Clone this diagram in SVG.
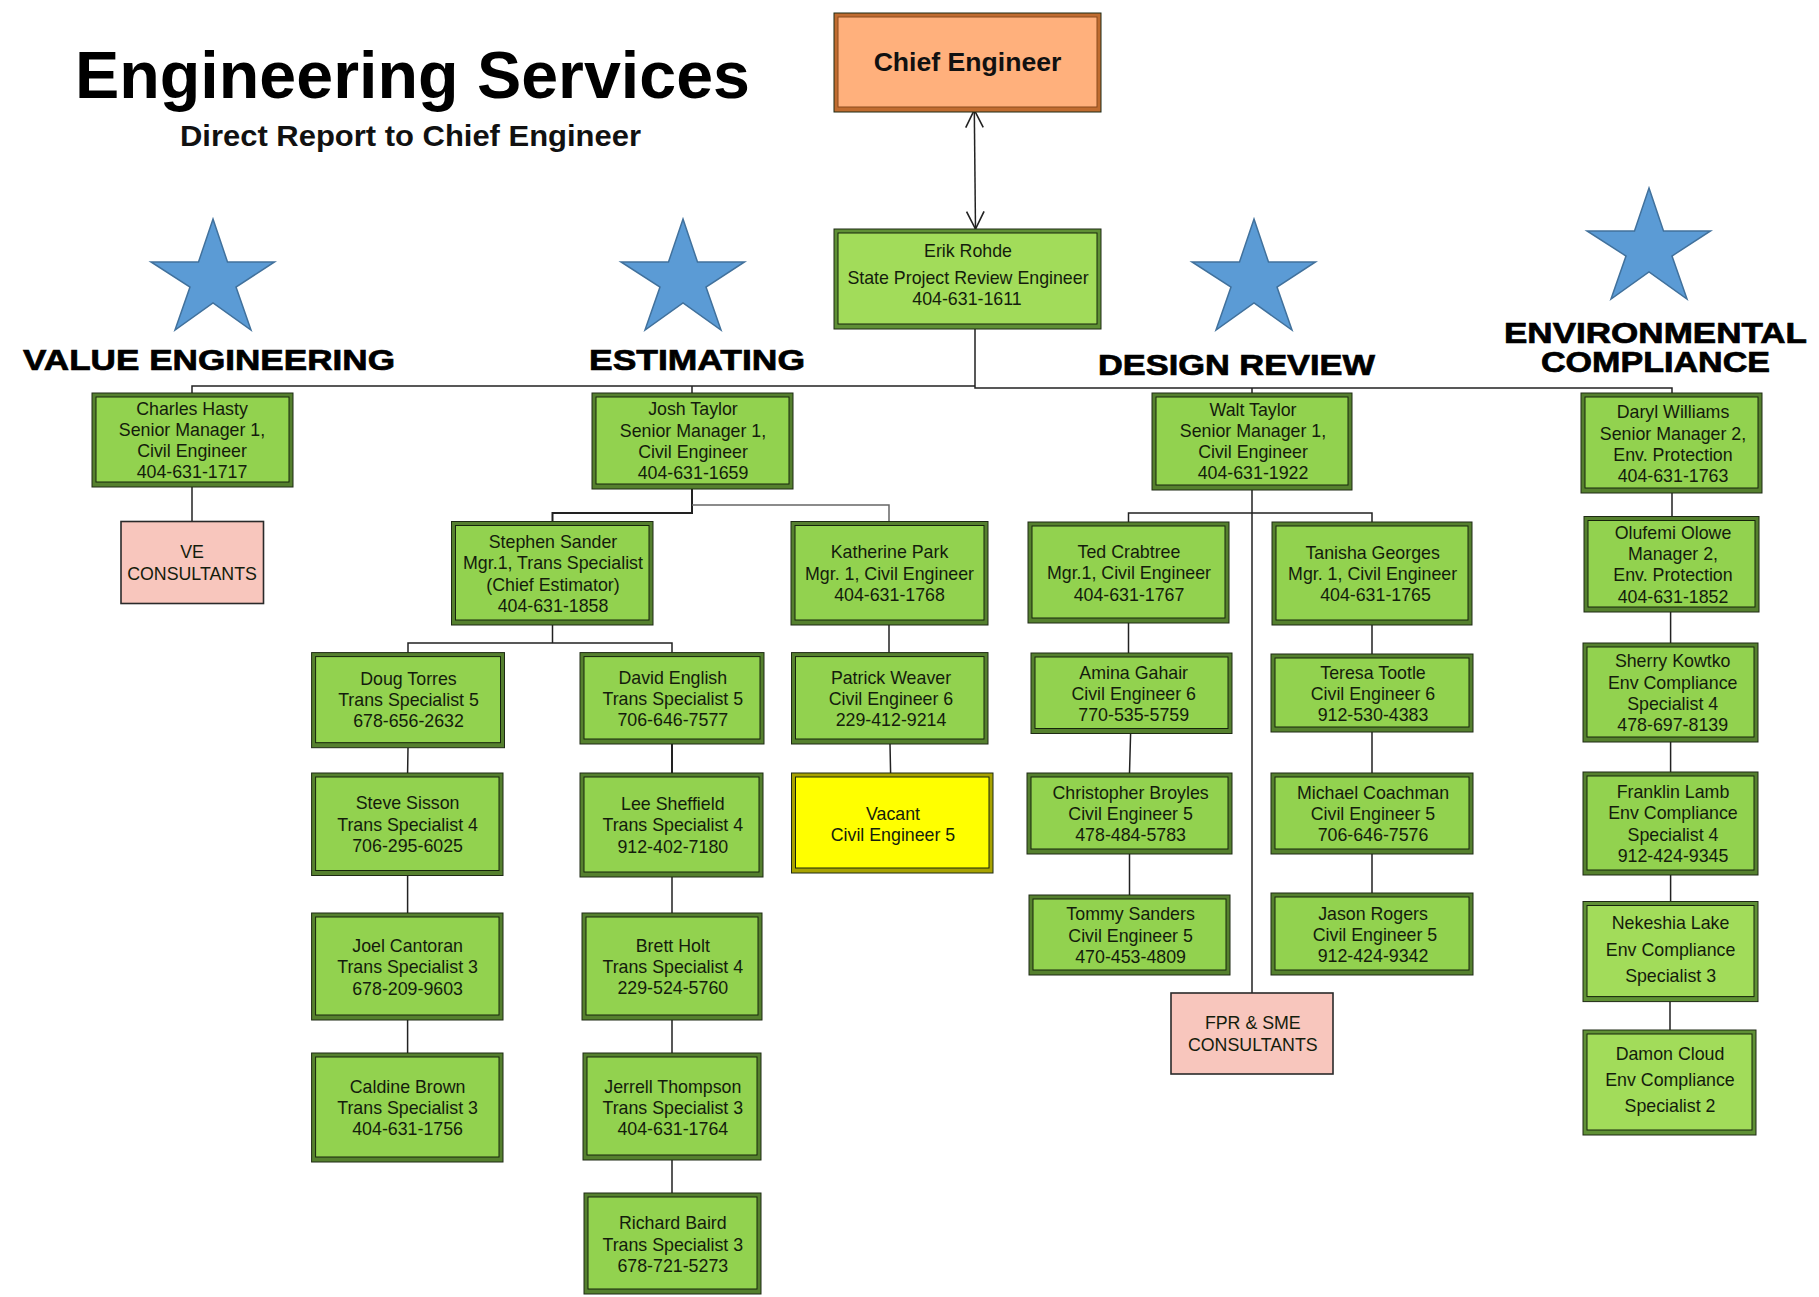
<svg xmlns="http://www.w3.org/2000/svg" xmlns:xlink="http://www.w3.org/1999/xlink" width="1819" height="1297" viewBox="0 0 1819 1297">
<style>
text{font-family:"Liberation Sans",Arial,sans-serif;fill:#141c0c}
.t{font-size:17.8px;text-anchor:middle}
.h{font-size:29px;font-weight:bold;fill:#000;stroke:#000;stroke-width:.7px}
.o{stroke:#1e2a14;stroke-width:1}
.g .o{fill:#55802e}.g .i{fill:#92d24f}
.l .o{fill:#5f9035}.l .i{fill:#a2dc5a}
.y .o{fill:#a8a300}.y .i{fill:#ffff00}
.c .o{fill:#c06c30}.c .i{fill:#ffb07c;stroke:#8a4a1c}
.i{stroke:#16240c;stroke-width:1}
.p{fill:#f8c6bd;stroke:#2a2a2a;stroke-width:1.6}
.s{fill:#5b9bd5;stroke:#41719c;stroke-width:1.5}
.w{fill:none;stroke:#222;stroke-width:1.5}
.gy{fill:none;stroke:#666;stroke-width:1.5}
</style>
<defs>
<marker id="a" markerUnits="userSpaceOnUse" markerWidth="20" markerHeight="20" refX="15" refY="8" orient="auto-start-reverse" viewBox="0 0 16 16"><path d="M1 1L15 8L1 15" fill="none" stroke="#222" stroke-width="1.3"/></marker>
<polygon id="star" class="s" points="213,219 227.5,262 274.5,262 236,287 251,330 213,303 175,330 190,287 151,262 198.5,262"/>
</defs>

<g id="connectors">
<path class="w" d="M974.3 110L975.5 229" marker-start="url(#a)" marker-end="url(#a)"/>
<path class="w" d="M975 329V388H1672V393M975 386H192V393M692 386V393M1252 388V393"/>
<path class="w" d="M192 487V521"/>
<path class="w" d="M692 489V513H552.5V521.5" style="stroke-width:2"/>
<path class="gy" d="M692 505H889V521.5"/>
<path class="w" d="M552.5 625V643M408 652.6V643H672V652.6"/>
<path class="w" d="M408 747.7L407.6 773M407.6 875.5V913M407.6 1020V1053"/>
<path class="w" d="M672 744V773" style="stroke-width:2"/>
<path class="w" d="M672 877V913M672 1020V1053M672 1160V1193"/>
<path class="w" d="M889 625V652.6M890 744L890.6 773"/>
<path class="w" d="M1252 490V993M1128.5 522V513H1372V522"/>
<path class="w" d="M1128.5 623V653M1130.6 733.5L1129.5 773M1129.5 854V895"/>
<path class="w" d="M1372 625V654M1372 732V773M1372 854V893"/>
<path class="w" d="M1672 493V516.5M1670.6 612V643M1670.6 742V772M1670.6 875V901.5M1670 1001.6V1030"/>
</g>

<g id="title">
<text x="75" y="97.5" style="font-size:66.5px;font-weight:bold;fill:#000" textLength="675" lengthAdjust="spacingAndGlyphs">Engineering Services</text>
<text x="180" y="146" style="font-size:29.5px;font-weight:bold;fill:#111" textLength="461" lengthAdjust="spacingAndGlyphs">Direct Report to Chief Engineer</text>
</g>

<g id="stars">
<use xlink:href="#star" href="#star"/>
<use xlink:href="#star" href="#star" x="470"/>
<use xlink:href="#star" href="#star" x="1041"/>
<use xlink:href="#star" href="#star" x="1436" y="-31"/>
</g>

<g id="headings">
<text class="h" x="23" y="370" textLength="372" lengthAdjust="spacingAndGlyphs">VALUE ENGINEERING</text>
<text class="h" x="589" y="370" textLength="216" lengthAdjust="spacingAndGlyphs">ESTIMATING</text>
<text class="h" x="1098" y="375" textLength="277" lengthAdjust="spacingAndGlyphs">DESIGN REVIEW</text>
<text class="h" x="1504" y="343" textLength="303" lengthAdjust="spacingAndGlyphs">ENVIRONMENTAL</text>
<text class="h" x="1541" y="372" textLength="229" lengthAdjust="spacingAndGlyphs">COMPLIANCE</text>
</g>

<g id="n-chief" class="c"><rect class="o" x="834" y="13" width="267" height="99"/><rect class="i" x="838" y="17" width="259" height="90"/><text x="967.5" y="71" style="font-size:26.6px;font-weight:bold;fill:#111;text-anchor:middle">Chief Engineer</text></g>
<g id="n-erik" class="l"><rect class="o" x="834" y="229" width="267" height="100"/><rect class="i" x="838" y="233" width="259" height="91"/><text class="t"><tspan x="968" y="257">Erik Rohde</tspan><tspan x="968" y="283.5">State Project Review Engineer</tspan><tspan x="967" y="304.5">404-631-1611</tspan></text></g>

<g id="n-charles" class="g"><rect class="o" x="92" y="393" width="201" height="94"/><rect class="i" x="96" y="397" width="193" height="85"/><text class="t"><tspan x="192" y="414.5">Charles Hasty</tspan><tspan x="192" y="436">Senior Manager 1,</tspan><tspan x="192" y="457">Civil Engineer</tspan><tspan x="192" y="478">404-631-1717</tspan></text></g>
<g id="n-ve"><rect class="p" x="121" y="521.5" width="142.500" height="82"/><text class="t"><tspan x="192" y="558">VE</tspan><tspan x="192" y="579.500">CONSULTANTS</tspan></text></g>

<g id="n-josh" class="g"><rect class="o" x="592" y="393" width="201" height="96"/><rect class="i" x="596" y="397" width="193" height="87"/><text class="t"><tspan x="693" y="415">Josh Taylor</tspan><tspan x="693" y="436.5">Senior Manager 1,</tspan><tspan x="693" y="457.5">Civil Engineer</tspan><tspan x="693" y="478.5">404-631-1659</tspan></text></g>
<g id="n-stephen" class="g"><rect class="o" x="451.500" y="521.5" width="201.500" height="103.500"/><rect class="i" x="455.500" y="525.5" width="193.500" height="94.500"/><text class="t"><tspan x="553" y="548">Stephen Sander</tspan><tspan x="553" y="569">Mgr.1, Trans Specialist</tspan><tspan x="553" y="590.5">(Chief Estimator)</tspan><tspan x="553" y="611.5">404-631-1858</tspan></text></g>
<g id="n-katherine" class="g"><rect class="o" x="791" y="521.5" width="197" height="103.500"/><rect class="i" x="795" y="525.5" width="189" height="94.500"/><text class="t"><tspan x="889.5" y="558">Katherine Park</tspan><tspan x="889.5" y="579.5">Mgr. 1, Civil Engineer</tspan><tspan x="889.5" y="601">404-631-1768</tspan></text></g>

<g id="n-doug" class="g"><rect class="o" x="311.600" y="652.6" width="192.900" height="95.100"/><rect class="i" x="315.600" y="656.6" width="184.900" height="86.100"/><text class="t"><tspan x="408.5" y="685.4">Doug Torres</tspan><tspan x="408.5" y="706.3">Trans Specialist 5</tspan><tspan x="408.5" y="727.2">678-656-2632</tspan></text></g>
<g id="n-steve" class="g"><rect class="o" x="311.600" y="773" width="191.400" height="102.500"/><rect class="i" x="315.600" y="777" width="183.400" height="93.500"/><text class="t"><tspan x="407.6" y="809.4">Steve Sisson</tspan><tspan x="407.6" y="830.8">Trans Specialist 4</tspan><tspan x="407.6" y="852">706-295-6025</tspan></text></g>
<g id="n-joel" class="g"><rect class="o" x="311.600" y="913" width="191.400" height="107"/><rect class="i" x="315.600" y="917" width="183.400" height="98"/><text class="t"><tspan x="407.6" y="952.3">Joel Cantoran</tspan><tspan x="407.6" y="973.2">Trans Specialist 3</tspan><tspan x="407.6" y="994.6">678-209-9603</tspan></text></g>
<g id="n-caldine" class="g"><rect class="o" x="311.600" y="1053" width="191.400" height="109"/><rect class="i" x="315.600" y="1057" width="183.400" height="100"/><text class="t"><tspan x="407.6" y="1093">Caldine Brown</tspan><tspan x="407.6" y="1114">Trans Specialist 3</tspan><tspan x="407.6" y="1135.4">404-631-1756</tspan></text></g>

<g id="n-david" class="g"><rect class="o" x="580" y="652.6" width="184" height="91.400"/><rect class="i" x="584" y="656.6" width="176" height="82.400"/><text class="t"><tspan x="672.8" y="683.7">David English</tspan><tspan x="672.8" y="705">Trans Specialist 5</tspan><tspan x="672.8" y="726">706-646-7577</tspan></text></g>
<g id="n-lee" class="g"><rect class="o" x="580" y="773" width="183" height="104"/><rect class="i" x="584" y="777" width="175" height="95"/><text class="t"><tspan x="672.8" y="810">Lee Sheffield</tspan><tspan x="672.8" y="831">Trans Specialist 4</tspan><tspan x="672.8" y="852.5">912-402-7180</tspan></text></g>
<g id="n-brett" class="g"><rect class="o" x="582" y="913" width="180" height="107"/><rect class="i" x="586" y="917" width="172" height="98"/><text class="t"><tspan x="672.8" y="952">Brett Holt</tspan><tspan x="672.8" y="973">Trans Specialist 4</tspan><tspan x="672.8" y="994">229-524-5760</tspan></text></g>
<g id="n-jerrell" class="g"><rect class="o" x="583" y="1053" width="178" height="107"/><rect class="i" x="587" y="1057" width="170" height="98"/><text class="t"><tspan x="672.8" y="1092.6">Jerrell Thompson</tspan><tspan x="672.8" y="1113.6">Trans Specialist 3</tspan><tspan x="672.8" y="1135">404-631-1764</tspan></text></g>
<g id="n-richard" class="g"><rect class="o" x="584" y="1193" width="177" height="101"/><rect class="i" x="588" y="1197" width="169" height="92"/><text class="t"><tspan x="672.8" y="1229.4">Richard Baird</tspan><tspan x="672.8" y="1250.6">Trans Specialist 3</tspan><tspan x="672.8" y="1272">678-721-5273</tspan></text></g>

<g id="n-patrick" class="g"><rect class="o" x="791.500" y="652.6" width="196.500" height="91.400"/><rect class="i" x="795.500" y="656.6" width="188.500" height="82.400"/><text class="t"><tspan x="891" y="683.7">Patrick Weaver</tspan><tspan x="891" y="705">Civil Engineer 6</tspan><tspan x="891" y="726">229-412-9214</tspan></text></g>
<g id="n-vacant" class="y"><rect class="o" x="791.500" y="773" width="201.500" height="100"/><rect class="i" x="795.500" y="777" width="193.500" height="91"/><text class="t"><tspan x="893" y="819.5">Vacant</tspan><tspan x="893" y="840.8">Civil Engineer 5</tspan></text></g>

<g id="n-walt" class="g"><rect class="o" x="1152" y="393" width="200" height="97"/><rect class="i" x="1156" y="397" width="192" height="88"/><text class="t"><tspan x="1253" y="416">Walt Taylor</tspan><tspan x="1253" y="437">Senior Manager 1,</tspan><tspan x="1253" y="458">Civil Engineer</tspan><tspan x="1253" y="479">404-631-1922</tspan></text></g>
<g id="n-ted" class="g"><rect class="o" x="1028" y="522" width="201" height="101"/><rect class="i" x="1032" y="526" width="193" height="92"/><text class="t"><tspan x="1129" y="557.5">Ted Crabtree</tspan><tspan x="1129" y="579">Mgr.1, Civil Engineer</tspan><tspan x="1129" y="600.5">404-631-1767</tspan></text></g>
<g id="n-tanisha" class="g"><rect class="o" x="1272" y="522" width="200" height="103"/><rect class="i" x="1276" y="526" width="192" height="94"/><text class="t"><tspan x="1372.6" y="558.5">Tanisha Georges</tspan><tspan x="1372.6" y="580">Mgr. 1, Civil Engineer</tspan><tspan x="1375.5" y="601">404-631-1765</tspan></text></g>
<g id="n-amina" class="g"><rect class="o" x="1031" y="653" width="201" height="80.500"/><rect class="i" x="1035" y="657" width="193" height="71.500"/><text class="t"><tspan x="1133.7" y="678.7">Amina Gahair</tspan><tspan x="1133.7" y="700">Civil Engineer 6</tspan><tspan x="1133.7" y="721">770-535-5759</tspan></text></g>
<g id="n-teresa" class="g"><rect class="o" x="1271" y="654" width="202" height="78"/><rect class="i" x="1275" y="658" width="194" height="69"/><text class="t"><tspan x="1373" y="678.7">Teresa Tootle</tspan><tspan x="1373" y="700">Civil Engineer 6</tspan><tspan x="1373" y="721">912-530-4383</tspan></text></g>
<g id="n-christopher" class="g"><rect class="o" x="1027" y="773" width="205" height="81"/><rect class="i" x="1031" y="777" width="197" height="72"/><text class="t"><tspan x="1130.6" y="799">Christopher Broyles</tspan><tspan x="1130.6" y="820">Civil Engineer 5</tspan><tspan x="1130.6" y="841.3">478-484-5783</tspan></text></g>
<g id="n-michael" class="g"><rect class="o" x="1271" y="773" width="202" height="81"/><rect class="i" x="1275" y="777" width="194" height="72"/><text class="t"><tspan x="1373" y="799">Michael Coachman</tspan><tspan x="1373" y="820">Civil Engineer 5</tspan><tspan x="1373" y="841.3">706-646-7576</tspan></text></g>
<g id="n-tommy" class="g"><rect class="o" x="1029" y="895" width="201" height="80"/><rect class="i" x="1033" y="899" width="193" height="71"/><text class="t"><tspan x="1130.6" y="920.4">Tommy Sanders</tspan><tspan x="1130.6" y="941.8">Civil Engineer 5</tspan><tspan x="1130.6" y="962.7">470-453-4809</tspan></text></g>
<g id="n-jason" class="g"><rect class="o" x="1271" y="893" width="202" height="82"/><rect class="i" x="1275" y="897" width="194" height="73"/><text class="t"><tspan x="1373" y="919.6">Jason Rogers</tspan><tspan x="1375" y="941">Civil Engineer 5</tspan><tspan x="1373" y="962.3">912-424-9342</tspan></text></g>
<g id="n-fpr"><rect class="p" x="1171" y="993" width="162" height="81"/><text class="t"><tspan x="1252.8" y="1029.4">FPR &amp; SME</tspan><tspan x="1252.8" y="1050.7">CONSULTANTS</tspan></text></g>

<g id="n-daryl" class="g"><rect class="o" x="1581" y="393" width="181" height="100"/><rect class="i" x="1585" y="397" width="173" height="91"/><text class="t"><tspan x="1673" y="418">Daryl Williams</tspan><tspan x="1673" y="439.5">Senior Manager 2,</tspan><tspan x="1673" y="460.5">Env. Protection</tspan><tspan x="1673" y="482">404-631-1763</tspan></text></g>
<g id="n-olufemi" class="g"><rect class="o" x="1584" y="516.5" width="175" height="95.500"/><rect class="i" x="1588" y="520.5" width="167" height="86.500"/><text class="t"><tspan x="1673" y="538.5">Olufemi Olowe</tspan><tspan x="1673" y="560">Manager 2,</tspan><tspan x="1673" y="581">Env. Protection</tspan><tspan x="1673" y="602.5">404-631-1852</tspan></text></g>
<g id="n-sherry" class="g"><rect class="o" x="1583" y="643" width="175" height="99"/><rect class="i" x="1587" y="647" width="167" height="90"/><text class="t"><tspan x="1672.7" y="667.4">Sherry Kowtko</tspan><tspan x="1672.7" y="688.7">Env Compliance</tspan><tspan x="1672.7" y="710">Specialist 4</tspan><tspan x="1672.7" y="731">478-697-8139</tspan></text></g>
<g id="n-franklin" class="g"><rect class="o" x="1583" y="772" width="175" height="103"/><rect class="i" x="1587" y="776" width="167" height="94"/><text class="t"><tspan x="1673" y="798">Franklin Lamb</tspan><tspan x="1673" y="819.4">Env Compliance</tspan><tspan x="1673" y="840.8">Specialist 4</tspan><tspan x="1673" y="862">912-424-9345</tspan></text></g>
<g id="n-nekeshia" class="l"><rect class="o" x="1583" y="901.5" width="175" height="100.100"/><rect class="i" x="1587" y="905.5" width="167" height="91.100"/><text class="t"><tspan x="1670.6" y="929">Nekeshia Lake</tspan><tspan x="1670.6" y="955.5">Env Compliance</tspan><tspan x="1670.6" y="982">Specialist 3</tspan></text></g>
<g id="n-damon" class="l"><rect class="o" x="1583" y="1030" width="173" height="105"/><rect class="i" x="1587" y="1034" width="165" height="96"/><text class="t"><tspan x="1670" y="1059.5">Damon Cloud</tspan><tspan x="1670" y="1086">Env Compliance</tspan><tspan x="1670" y="1112.4">Specialist 2</tspan></text></g>
</svg>
